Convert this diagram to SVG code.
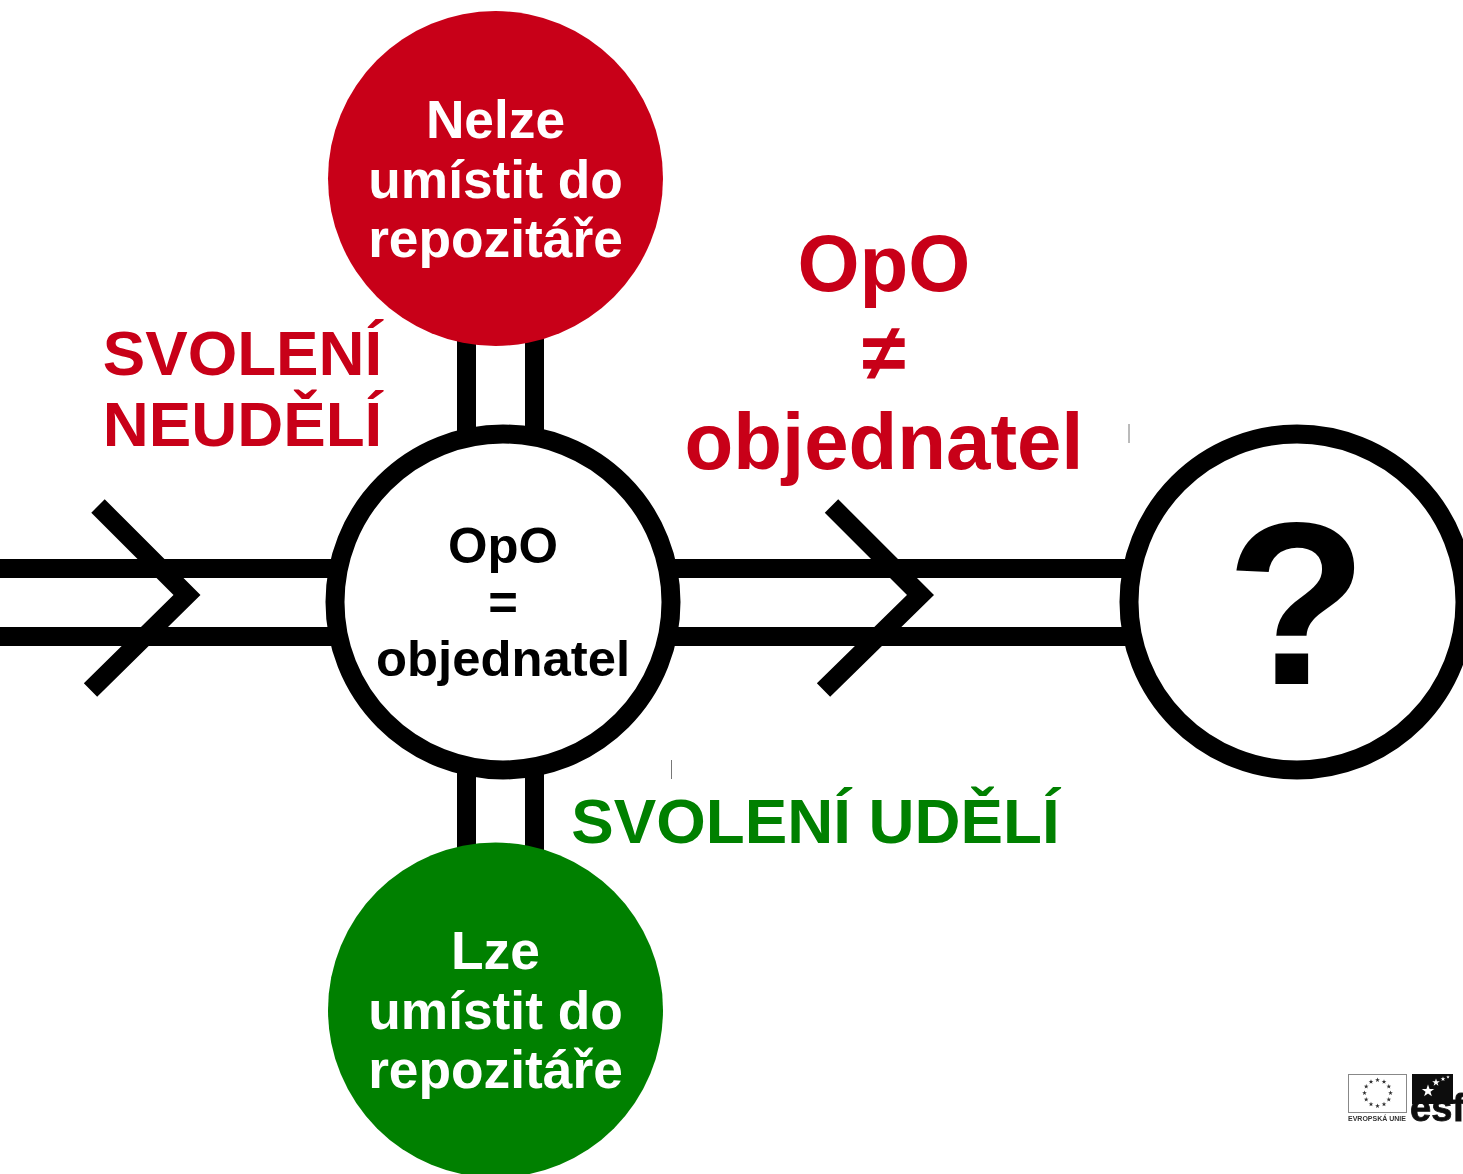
<svg xmlns="http://www.w3.org/2000/svg" width="1463" height="1174" viewBox="0 0 1463 1174">
<style>
text{font-family:"Liberation Sans",Arial,sans-serif;font-weight:700;text-anchor:middle}
.w{fill:#fff;font-size:53.300px}
.b{fill:#000;font-size:50.800px}
.r{fill:#c80018}
.g{fill:#008000}
.lab{font-size:63.700px}
.big{font-size:79.800px}
.line{fill:none;stroke:#000;stroke-width:19}
.ring{fill:#fff;stroke:#000;stroke-width:19}
.chev{fill:none;stroke:#000;stroke-width:19;stroke-miterlimit:10}
.tick{stroke:#777;stroke-width:1}
.eustar{fill:#333}
.esfstar{fill:#fff}
</style>
<defs>
<path id="star" d="M0-1L.24-.31.95-.31.38.12.59.81 0 .4-.59.81-.38.12-.95-.31-.24-.31Z"/>
<filter id="soft" x="-5%" y="-5%" width="110%" height="110%"><feGaussianBlur stdDeviation="0.45"/></filter>
</defs>
<rect width="1463" height="1174" fill="#fff"/>
<g id="connectors">
<path class="line" d="M0 568.500H340M0 636.500H340M666 568.500H1134M666 636.500H1134M466.500 335V440M534.500 335V440M466.500 765V855M534.500 765V855"/>
<path class="chev" d="M98 506L187 595L90.500 690"/>
<path class="chev" d="M831.500 506L920.500 595L823.500 690"/>
<path class="tick" d="M1129 424V443M671.500 760V779"/>
</g>
<g id="node-nelze">
<circle class="r" cx="495.500" cy="178.500" r="167.500"/>
<text class="w" x="495.500" y="138">Nelze</text>
<text class="w" x="495.500" y="197.500">umístit do</text>
<text class="w" x="495.500" y="257">repozitáře</text>
</g>
<g id="node-lze">
<circle class="g" cx="495.500" cy="1010" r="167.500"/>
<text class="w" x="495.500" y="969">Lze</text>
<text class="w" x="495.500" y="1028.500">umístit do</text>
<text class="w" x="495.500" y="1088">repozitáře</text>
</g>
<g id="node-opo">
<circle class="ring" cx="503" cy="602" r="168"/>
<text class="b" x="503" y="563">OpO</text>
<text class="b" x="503" y="620">=</text>
<text class="b" x="503" y="676">objednatel</text>
</g>
<g id="node-question">
<circle class="ring" cx="1297" cy="602" r="168"/>
<text x="1296.500" y="684" style="font-size:232px">?</text>
</g>
<g id="label-neudeli" class="r">
<text class="lab" x="242.500" y="374.500">SVOLENÍ</text>
<text class="lab" x="242.500" y="445.500">NEUDĚLÍ</text>
</g>
<g id="label-udeli" class="g">
<text class="lab" x="815.500" y="842.500">SVOLENÍ UDĚLÍ</text>
</g>
<g id="label-opo-ne" class="r">
<text class="big" x="884" y="290.500">OpO</text>
<text class="big" x="884" y="380">≠</text>
<text class="big" x="884" y="468.500">objednatel</text>
</g>
<g id="logo-eu" filter="url(#soft)">
<rect x="1348.500" y="1074.500" width="58" height="38" fill="#fff" stroke="#888"/>
<g class="eustar">
<use href="#star" transform="translate(1377.500 1080) scale(2.500)"/>
<use href="#star" transform="translate(1384 1081.700) scale(2.500)"/>
<use href="#star" transform="translate(1388.800 1086.500) scale(2.500)"/>
<use href="#star" transform="translate(1390.500 1093) scale(2.500)"/>
<use href="#star" transform="translate(1388.800 1099.500) scale(2.500)"/>
<use href="#star" transform="translate(1384 1104.300) scale(2.500)"/>
<use href="#star" transform="translate(1377.500 1106) scale(2.500)"/>
<use href="#star" transform="translate(1371 1104.300) scale(2.500)"/>
<use href="#star" transform="translate(1366.200 1099.500) scale(2.500)"/>
<use href="#star" transform="translate(1364.500 1093) scale(2.500)"/>
<use href="#star" transform="translate(1366.200 1086.500) scale(2.500)"/>
<use href="#star" transform="translate(1371 1081.700) scale(2.500)"/>
</g>
<text x="1377" y="1120.500" style="font-size:7px" fill="#333">EVROPSKÁ UNIE</text>
</g>
<g id="logo-esf" filter="url(#soft)">
<rect x="1412" y="1074" width="41" height="30" fill="#111"/>
<g class="esfstar">
<use href="#star" transform="translate(1428 1091) scale(6.500)"/>
<use href="#star" transform="translate(1436 1082.500) scale(4)"/>
<use href="#star" transform="translate(1443 1079) scale(2.500)"/>
<use href="#star" transform="translate(1448 1077) scale(1.800)"/>
</g>
<text x="1410" y="1120.500" style="font-size:38px;text-anchor:start;stroke:#111;stroke-width:.8" fill="#111">esf</text>
</g>
</svg>
